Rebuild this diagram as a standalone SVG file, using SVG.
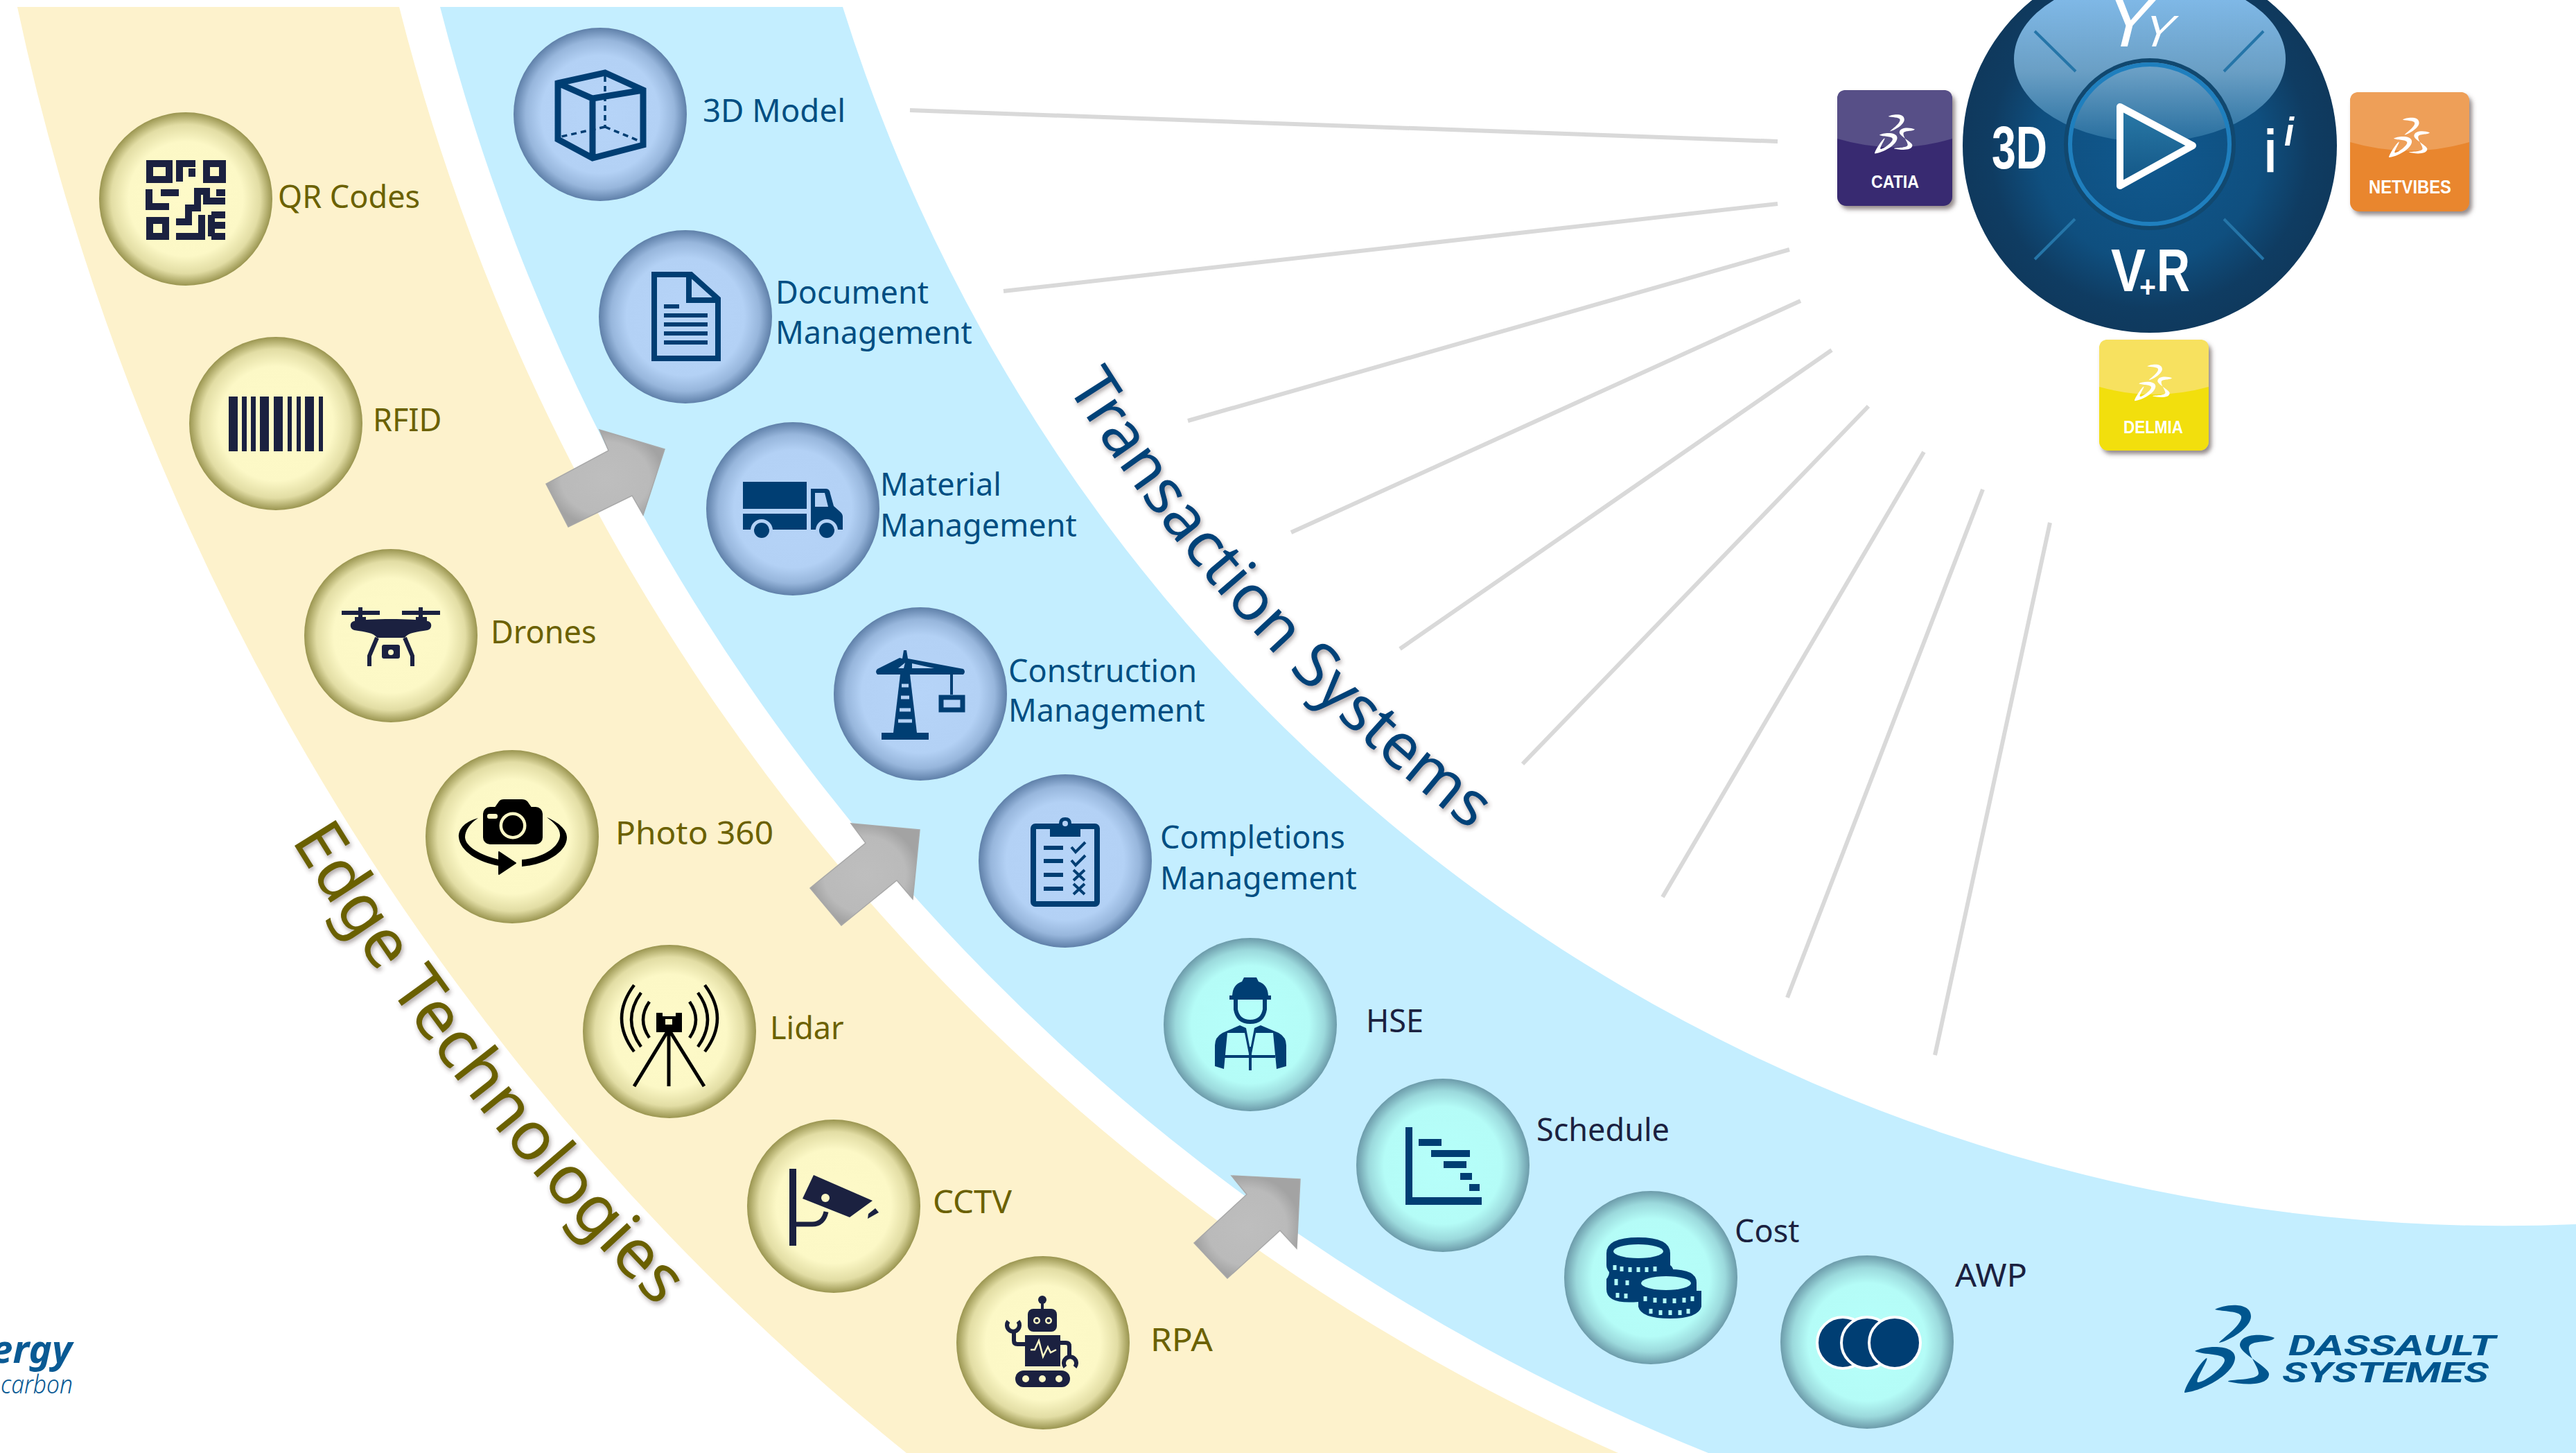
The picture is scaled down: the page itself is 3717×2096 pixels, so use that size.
<svg xmlns="http://www.w3.org/2000/svg" xmlns:xlink="http://www.w3.org/1999/xlink" width="3717" height="2096" viewBox="0 0 3717 2096">
<style>
text{font-family:"Noto Sans","Open Sans",sans-serif}
.lb{font-size:45px}
.ly{fill:#6B6100}.lb1{fill:#004E82}.ld{fill:#1B2140}
.i1{fill:#1B2140}.i2{fill:#003E73}
.s1{fill:none;stroke:#1B2140}.s2{fill:none;stroke:#003E73}
.cy{fill:url(#gy)}.cb{fill:url(#gb)}.ct{fill:url(#gt)}
.conn{stroke:#D9D9D9;stroke-width:6;fill:none}
.arr{fill:url(#ga);stroke:#A8A8A8;stroke-width:1.5}
.tt{font-family:"Liberation Sans",Arial,sans-serif;font-weight:700;fill:#fff}
.wt{font-family:"Liberation Sans",Arial,sans-serif;font-weight:700;fill:#fff}
.ds{font-family:"Roboto","Liberation Sans",sans-serif;font-weight:700;font-style:italic;font-size:40px;fill:#00568F}
</style>
<defs>
<radialGradient id="gy"><stop offset="0" stop-color="#FEFAC8"/><stop offset=".66" stop-color="#FCF8C6"/><stop offset=".86" stop-color="#E2DDA4"/><stop offset="1" stop-color="#9A9550"/></radialGradient>
<radialGradient id="gb"><stop offset="0" stop-color="#B6D4F8"/><stop offset=".68" stop-color="#B3D1F5"/><stop offset=".86" stop-color="#97B6DC"/><stop offset="1" stop-color="#5F80A9"/></radialGradient>
<radialGradient id="gt"><stop offset="0" stop-color="#B6FFFA"/><stop offset=".68" stop-color="#B4FCF7"/><stop offset=".86" stop-color="#9BD9DC"/><stop offset="1" stop-color="#6C9BAA"/></radialGradient>
<radialGradient id="ga"><stop offset="0" stop-color="#BEBEBE"/><stop offset=".75" stop-color="#BABABA"/><stop offset="1" stop-color="#A3A3A3"/></radialGradient>
<radialGradient id="gw" gradientUnits="userSpaceOnUse" cx="3102" cy="215" r="270"><stop offset="0" stop-color="#10598F"/><stop offset=".6" stop-color="#0F4F7F"/><stop offset=".85" stop-color="#0F3C62"/><stop offset="1" stop-color="#0F395D"/></radialGradient>
<linearGradient id="gl" gradientUnits="userSpaceOnUse" x1="0" y1="0" x2="0" y2="205"><stop offset="0" stop-color="#7FB8E6"/><stop offset=".5" stop-color="#6A9FC5"/><stop offset="1" stop-color="#276E9E"/></linearGradient>
<linearGradient id="gp" x1="0" y1="0" x2="0" y2="1"><stop offset="0" stop-color="#2a7aa8"/><stop offset="1" stop-color="#125585"/></linearGradient>
<clipPath id="cw"><circle cx="3102" cy="210" r="270"/></clipPath>
<filter id="sh" x="-10%" y="-10%" width="125%" height="125%"><feDropShadow dx="4" dy="5" stdDeviation="3" flood-color="#5a4c4c" flood-opacity=".65"/></filter>
<filter id="ts" x="-15%" y="-15%" width="130%" height="135%"><feDropShadow dx="2" dy="4" stdDeviation="3" flood-color="#4a3c3c" flood-opacity=".45"/></filter>
<symbol id="dslogo" viewBox="0 0 130 128" overflow="visible">
<path d="M44 7C55 0 96-6 96 17C96 33 65 52 50 55C50 52 84 30 82 17C80 9 55 10 44 7Z"/>
<path d="M130 48C115 42 82 40 80 58C79 70 122 90 122 100C122 118 85 116 63 111C62 107 107 110 107 99C107 90 92 72 93 62C94 50 125 56 130 48Z"/>
<path d="M15 67C28 59 72 56 73 76C73 100 25 125 0 127C0 118 25 80 32 77C36 78 15 108 19 112C28 113 58 90 58 80C58 70 28 73 15 67Z"/>
</symbol>
<path id="pTrans" d="M1539 557A2447 2447 0 0 0 2541 1457"/>
<path id="pEdge" d="M420 1212A3743 3743 0 0 0 1174 2096"/>
</defs>
<rect width="3717" height="2096" fill="#fff"/>
<g id="bands">
<path d="M25 10H576A3122 3122 0 0 0 2335 2096H1308A3660 3660 0 0 1 25 10Z" fill="#FDF2CC"/>
<path d="M635 10H1216A2511 2511 0 0 0 3717 1766V2096H2465A3068 3068 0 0 1 635 10Z" fill="#C4EEFF"/>
</g>
<g id="connectors">
<line class="conn" x1="1313" y1="159" x2="2565" y2="204"/>
<line class="conn" x1="1448" y1="420" x2="2565" y2="294"/>
<line class="conn" x1="1714" y1="607" x2="2582" y2="360"/>
<line class="conn" x1="1863" y1="768" x2="2598" y2="434"/>
<line class="conn" x1="2020" y1="936" x2="2643" y2="505"/>
<line class="conn" x1="2197" y1="1102" x2="2696" y2="586"/>
<line class="conn" x1="2399" y1="1294" x2="2776" y2="652"/>
<line class="conn" x1="2579" y1="1439" x2="2861" y2="706"/>
<line class="conn" x1="2792" y1="1522" x2="2958" y2="754"/>
<polygon class="arr" points="959,648 865,620 878,650 788,698 820,760 912,715 928,743"/>
<polygon class="arr" points="1327,1197 1228,1188 1249,1216 1169,1281 1214,1335 1294,1270 1317,1297"/>
<polygon class="arr" points="1876,1701 1777,1696 1799,1723 1723,1793 1771,1844 1847,1775 1871,1801"/>
</g>
<g id="titles">
<text font-size="91" fill="#004278" filter="url(#ts)"><textPath href="#pTrans" xlink:href="#pTrans">Transaction Systems</textPath></text>
<text font-size="98" fill="#6B6100" filter="url(#ts)"><textPath href="#pEdge" xlink:href="#pEdge">Edge Technologies</textPath></text>
</g>

<g id="node-qr">
<circle class="cy" cx="268" cy="287" r="125"/>
<g class="s1" stroke-width="10">
<rect x="216" y="236" width="28" height="23"/><rect x="298" y="236" width="23" height="23"/><rect x="216" y="318" width="23" height="23"/>
<path d="M259 262V236H282M215 273V298H244M232 278H258M312 278H325M254 320H272V300H285V276H298V290H325M254 341H291V310M305 310V341M305 310H325M305 325H325M305 341H325"/>
</g>
<rect class="i1" x="272" y="243" width="10" height="12"/>
</g>
<text class="lb ly" x="401" y="300">QR Codes</text>

<g id="node-rfid">
<circle class="cy" cx="398" cy="611" r="125"/>
<path class="i1" d="M330 572h13v79h-13zM349 572h7v79h-7zM362 572h7v79h-7zM375 572h13v79h-13zM395 572h13v79h-13zM415 572h6v79h-6zM428 572h6v79h-6zM440 572h13v79h-13zM460 572h6v79h-6z"/>
</g>
<text class="lb ly" x="538" y="622">RFID</text>

<g id="node-drones">
<circle class="cy" cx="564" cy="917" r="125"/>
<path class="i1" d="M493 881H548V887H493ZM580 881H635V887H580ZM517 876H523V892H517ZM604 876H610V892H604ZM512 890H528V897H512ZM600 890H616V897H600Z"/>
<path class="i1" d="M511 896C530 892 598 892 617 896C624 897 624 907 617 909C600 912 590 912 584 920H544C538 912 528 912 511 909C504 907 504 897 511 896Z"/>
<path class="s1" stroke-width="6" d="M544 920L533 946V961M584 920L595 946V961"/>
<rect class="i1" x="551" y="930" width="26" height="20" rx="3"/><circle cx="564" cy="941" r="4" fill="#FCF8C6"/>
</g>
<text class="lb ly" x="708" y="928">Drones</text>

<g id="node-photo">
<circle class="cy" cx="739" cy="1207" r="125"/>
<rect x="697" y="1164" width="86" height="54" rx="10" fill="#000"/>
<path d="M713 1166L720 1156Q722 1153 727 1153H753Q758 1153 761 1156L768 1166Z" fill="#000"/>
<circle cx="740" cy="1191" r="19.5" fill="#FCF8C6"/><circle cx="740" cy="1191" r="15" fill="#000"/>
<rect x="703" y="1174" width="15" height="7" rx="3" fill="#FCF8C6"/>
<path d="M690 1180C668 1186 661 1198 662 1208C664 1228 690 1244 720 1249V1240C695 1234 672 1222 671 1208C671 1198 678 1188 690 1180Z" fill="#000"/>
<path d="M720 1229L744 1245L720 1261Z" fill="#000" stroke="#000" stroke-width="2" stroke-linejoin="round"/>
<path d="M753 1240V1250C790 1247 818 1228 818 1208C818 1196 805 1186 789 1179C800 1187 809 1196 808 1206C806 1224 780 1238 753 1240Z" fill="#000"/>
</g>
<text class="lb ly" x="888" y="1218" textLength="228" lengthAdjust="spacingAndGlyphs">Photo 360</text>

<g id="node-lidar">
<circle cx="966" cy="1488" r="125" class="cy"/>
<g fill="none" stroke="#000" stroke-width="4.5">
<path d="M915 1421Q879 1469 915 1517M925 1432Q897 1471 925 1510M937 1445Q919 1471 937 1497M1017 1421Q1053 1469 1017 1517M1007 1432Q1035 1471 1007 1510M995 1445Q1013 1471 995 1497"/>
<path d="M965 1485L915 1567M965 1485V1567M965 1485L1016 1567" stroke-width="5"/>
</g>
<path d="M947 1461H956V1466H975V1461H984V1489H947Z" fill="#000"/><rect x="960" y="1470" width="10" height="8" fill="#FCF8C6"/>
</g>
<text class="lb ly" x="1111" y="1499">Lidar</text>

<g id="node-cctv">
<circle class="cy" cx="1203" cy="1740" r="125"/>
<rect class="i1" x="1139" y="1686" width="10" height="111"/>
<path class="s1" stroke-width="7" d="M1149 1766H1172Q1188 1766 1192 1748"/>
<path class="i1" d="M1174 1695L1259 1732L1226 1756L1158 1729Z"/>
<path class="i1" d="M1253 1751L1263 1743L1268 1749L1252 1758Z"/>
<circle cx="1191" cy="1728" r="6" fill="#FCF8C6"/>
</g>
<text class="lb ly" x="1346" y="1750" textLength="114" lengthAdjust="spacingAndGlyphs">CCTV</text>

<g id="node-rpa">
<circle class="cy" cx="1505" cy="1937" r="125"/>
<circle class="i1" cx="1504" cy="1875" r="6"/><rect class="i1" x="1502" y="1878" width="4" height="12"/>
<rect class="i1" x="1483" y="1888" width="42" height="33" rx="8"/>
<circle cx="1496" cy="1905" r="5" fill="#FCF8C6"/><circle cx="1513" cy="1905" r="5" fill="#FCF8C6"/>
<circle class="i1" cx="1496" cy="1905" r="2.5"/><circle class="i1" cx="1513" cy="1905" r="2.5"/>
<rect class="i1" x="1479" y="1926" width="51" height="45"/>
<polyline points="1487,1947 1493,1947 1499,1934 1505,1957 1512,1943 1516,1951 1524,1947" fill="none" stroke="#FCF8C6" stroke-width="2.5"/>
<rect class="i1" x="1465" y="1977" width="79" height="24" rx="12"/>
<circle cx="1480" cy="1989" r="5" fill="#FCF8C6"/><circle cx="1504" cy="1989" r="5" fill="#FCF8C6"/><circle cx="1528" cy="1989" r="5" fill="#FCF8C6"/>
<path class="s1" stroke-width="6" d="M1479 1939H1468Q1463 1939 1463 1934V1918M1530 1937H1538Q1543 1937 1543 1942V1958"/>
<path class="s1" stroke-width="6" d="M1455 1906A9 9 0 1 0 1469 1906M1537 1972A9 9 0 1 1 1551 1972"/>
</g>
<text class="lb ly" x="1660" y="1949" textLength="90" lengthAdjust="spacingAndGlyphs">RPA</text>

<g id="node-3d">
<circle class="cb" cx="866" cy="165" r="125"/>
<g class="s2" stroke-width="9" stroke-linejoin="miter">
<path d="M805 120L873 105L928 130V209L855 228L805 201ZM805 120L855 142L928 130M855 142V228"/>
<path stroke-width="3.5" stroke-dasharray="8 6" d="M873 110V183M873 183L810 197M873 183L924 204"/>
</g>
</g>
<text class="lb lb1" x="1014" y="176" textLength="206" lengthAdjust="spacingAndGlyphs">3D Model</text>

<g id="node-doc">
<circle class="cb" cx="989" cy="457" r="125"/>
<path class="s2" stroke-width="8" d="M944 396H997L1036 431V517H944ZM994 396V433H1036"/>
<path class="s2" stroke-width="6" d="M958 442H980M958 455H1021M958 468H1021M958 481H1021M958 494H1021"/>
</g>
<text class="lb lb1" x="1119" y="438">Document</text>
<text class="lb lb1" x="1119" y="496">Management</text>

<g id="node-material">
<circle class="cb" cx="1144" cy="734" r="125"/>
<path class="i2" d="M1072 695H1164V734H1072ZM1072 741H1164V764H1072Z"/>
<path class="i2" d="M1170 705H1192Q1197 705 1198 712L1203 730L1212 738Q1216 741 1216 746V764H1170Z"/>
<path d="M1176 711H1190L1195 731H1176Z" fill="#B3D1F5"/>
<circle cx="1099" cy="765" r="16" fill="#B3D1F5"/><circle class="i2" cx="1099" cy="765" r="11"/>
<circle cx="1193" cy="765" r="16" fill="#B3D1F5"/><circle class="i2" cx="1193" cy="765" r="11"/>
</g>
<text class="lb lb1" x="1270" y="715">Material</text>
<text class="lb lb1" x="1270" y="774">Management</text>

<g id="node-construction">
<circle class="cb" cx="1328" cy="1001" r="125"/>
<path class="i2" d="M1302 950L1304 938H1308L1310 950L1390 965Q1394 969 1390 973H1266Q1262 969 1266 965L1298 949ZM1272 1057H1340V1067H1272Z"/>
<path class="i2" d="M1299 973H1313L1323 1057H1289Z"/>
<path d="M1301 989H1311M1300 1006H1312M1298 1024H1314M1296 1040H1316" stroke="#B3D1F5" stroke-width="5" fill="none"/>
<path d="M1306 956L1304 964H1296ZM1316 957L1348 964H1316Z" fill="#B3D1F5"/>
<rect class="i2" x="1371" y="973" width="4" height="29"/>
<rect class="s2" x="1358" y="1006" width="31" height="18" stroke-width="7"/>
</g>
<text class="lb lb1" x="1455" y="984">Construction</text>
<text class="lb lb1" x="1455" y="1041">Management</text>

<g id="node-completions">
<circle class="cb" cx="1537" cy="1242" r="125"/>
<rect class="s2" x="1491" y="1192" width="92" height="112" rx="3" stroke-width="8"/>
<path class="i2" d="M1515 1188H1528Q1528 1179 1537 1179Q1546 1179 1546 1188H1559V1207H1515Z"/>
<circle cx="1537" cy="1188" r="4" fill="#B3D1F5"/>
<path class="s2" stroke-width="6" d="M1506 1223H1534M1506 1242H1534M1506 1262H1534M1506 1282H1534"/>
<path class="s2" stroke-width="4" d="M1546 1222L1552 1229L1566 1215M1546 1241L1552 1248L1566 1234M1549 1255L1565 1270M1565 1255L1549 1270M1549 1275L1565 1290M1565 1275L1549 1290"/>
</g>
<text class="lb lb1" x="1674" y="1224">Completions</text>
<text class="lb lb1" x="1674" y="1283">Management</text>

<g id="node-hse">
<circle class="ct" cx="1804" cy="1478" r="125"/>
<path class="i2" d="M1795 1410H1813L1816 1416Q1829 1420 1830 1436H1834V1442H1774V1436H1778Q1779 1420 1792 1416Z"/>
<path class="s2" stroke-width="6" d="M1783 1441V1456Q1786 1474 1804 1474Q1822 1474 1825 1456V1441"/>
<path class="i2" d="M1789 1479L1798 1483L1804 1514L1810 1483L1819 1479L1845 1490Q1856 1496 1856 1508V1538L1842 1542L1837 1490L1812 1490L1806 1520H1802L1796 1490L1771 1490L1766 1542L1753 1538V1508Q1753 1496 1764 1490Z"/>
<path class="s2" stroke-width="4" d="M1766 1524H1840M1804 1510V1544"/>
</g>
<text class="lb ld" x="1971" y="1489">HSE</text>

<g id="node-schedule">
<circle class="ct" cx="2082" cy="1681" r="125"/>
<path class="i2" d="M2028 1626H2038V1727H2138V1738H2028ZM2047 1643H2080V1653H2047ZM2065 1659H2121V1669H2065ZM2083 1675H2116V1685H2083ZM2107 1692H2124V1702H2107ZM2120 1708H2135V1718H2120Z"/>
</g>
<text class="lb ld" x="2217" y="1646">Schedule</text>

<g id="node-cost">
<circle class="ct" cx="2382" cy="1843" r="125"/>
<path class="i2" d="M2318 1808Q2318 1785 2364 1785Q2410 1785 2410 1808V1825Q2415 1828 2415 1838V1862L2455 1862V1885Q2450 1902 2410 1902Q2368 1902 2364 1885V1878Q2318 1882 2318 1860V1845Q2322 1840 2322 1835Q2318 1830 2318 1825Z"/>
<path class="i2" d="M2370 1850Q2370 1831 2410 1831Q2448 1831 2448 1850V1870H2370Z"/>
<ellipse cx="2364" cy="1805" rx="36" ry="10" fill="#B4FCF7"/>
<ellipse cx="2404" cy="1851" rx="36" ry="10" fill="#B4FCF7"/>
<path d="M2330 1825V1832M2340 1827V1834M2352 1828V1835M2364 1828V1835M2376 1828V1835M2388 1827V1834M2332 1845V1854M2348 1847V1854M2334 1865V1872M2346 1866V1873M2374 1870V1877M2388 1872V1879M2402 1873V1880M2416 1873V1880M2430 1872V1879M2442 1870V1877M2382 1888V1895M2396 1890V1897M2410 1890V1897M2424 1890V1897M2436 1888V1895" stroke="#B4FCF7" stroke-width="5" fill="none"/>
</g>
<text class="lb ld" x="2503" y="1792">Cost</text>

<g id="node-awp">
<circle class="ct" cx="2694" cy="1936" r="125"/>
<g class="i2" stroke="#fff" stroke-width="4">
<circle cx="2659" cy="1937" r="37"/><circle cx="2694" cy="1937" r="37"/><circle cx="2734" cy="1937" r="37"/>
</g>
</g>
<text class="lb ld" x="2821" y="1856" textLength="104" lengthAdjust="spacingAndGlyphs">AWP</text>

<g id="node-wheel">
<circle cx="3102" cy="210" r="270" fill="url(#gw)"/>
<g clip-path="url(#cw)"><ellipse cx="3102" cy="85" rx="196" ry="120" fill="url(#gl)"/></g>
<circle cx="3102" cy="208" r="121" fill="none" stroke="#11486f" stroke-width="6"/>
<circle cx="3102" cy="208" r="115" fill="none" stroke="#1F7FBE" stroke-width="6"/>
<path d="M3059 154L3164 210L3059 268Z" fill="url(#gp)" stroke="#fff" stroke-width="10" stroke-linejoin="round"/>
<path d="M2936 45L2995 103M3266 45L3209 103M2936 374L2994 316M3266 374L3209 316" stroke="#2575A8" stroke-width="4" fill="none"/>
<text class="wt" x="2874" y="243" font-size="87" textLength="80" lengthAdjust="spacingAndGlyphs">3D</text>
<text class="wt" x="3046" y="420" font-size="87" textLength="50" lengthAdjust="spacingAndGlyphs">V</text>
<text class="wt" x="3087" y="428" font-size="42" textLength="24" lengthAdjust="spacingAndGlyphs">+</text>
<text class="wt" x="3112" y="420" font-size="87" textLength="48" lengthAdjust="spacingAndGlyphs">R</text>
<text class="wt" x="3267" y="248" font-size="87" textLength="18" lengthAdjust="spacingAndGlyphs">i</text>
<text class="wt" x="3296" y="210" font-size="58" font-style="italic" textLength="14" lengthAdjust="spacingAndGlyphs">i</text>
<text class="wt" font-weight="400" style="font-weight:400" transform="translate(3065 67) skewX(-14)" text-anchor="middle" font-size="105">Y</text>
<text class="wt" style="font-weight:400" transform="translate(3108 67) skewX(-20)" text-anchor="middle" font-size="64">Y</text>
</g>

<g id="tile-catia">
<rect x="2651" y="130" width="166" height="167" rx="13" fill="#372B71" filter="url(#sh)"/>
<path d="M2651 143Q2651 130 2664 130H2804Q2817 130 2817 143V200Q2734 225 2651 200Z" fill="#574F87"/>
<use href="#dslogo" xlink:href="#dslogo" x="2705" y="165" width="58" height="57" fill="#fff"/>
<text class="tt" x="2700" y="271" font-size="26" textLength="69" lengthAdjust="spacingAndGlyphs">CATIA</text>
</g>
<g id="tile-netvibes">
<rect x="3391" y="133" width="172" height="172" rx="13" fill="#E9862E" filter="url(#sh)"/>
<path d="M3391 146Q3391 133 3404 133H3550Q3563 133 3563 146V205Q3477 230 3391 205Z" fill="#EE9F58"/>
<use href="#dslogo" xlink:href="#dslogo" x="3447" y="169" width="59" height="59" fill="#fff"/>
<text class="tt" x="3418" y="279" font-size="27" textLength="119" lengthAdjust="spacingAndGlyphs">NETVIBES</text>
</g>
<g id="tile-delmia">
<rect x="3029" y="490" width="158" height="160" rx="13" fill="#F2DF0B" filter="url(#sh)"/>
<path d="M3029 503Q3029 490 3042 490H3174Q3187 490 3187 503V558Q3108 580 3029 558Z" fill="#F7E15F"/>
<use href="#dslogo" xlink:href="#dslogo" x="3080" y="525" width="54" height="54" fill="#fff"/>
<text class="tt" x="3064" y="625" font-size="25" textLength="86" lengthAdjust="spacingAndGlyphs">DELMIA</text>
</g>

<g id="logo-dassault">
<use href="#dslogo" xlink:href="#dslogo" x="3152" y="1882" width="130" height="128" fill="#00568F"/>
<text class="ds" x="3302" y="1955" textLength="299" lengthAdjust="spacingAndGlyphs">DASSAULT</text>
<text class="ds" x="3293" y="1994" textLength="298" lengthAdjust="spacingAndGlyphs">SYSTEMES</text>
</g>
<g id="logo-energy">
<text x="104" y="1966" text-anchor="end" font-size="56" font-weight="700" font-style="italic" fill="#0A5A94">ergy</text>
<text x="1" y="2010" font-size="36" font-weight="300" font-style="italic" fill="#0A5A94" textLength="104" lengthAdjust="spacingAndGlyphs">carbon</text>
</g>
</svg>
